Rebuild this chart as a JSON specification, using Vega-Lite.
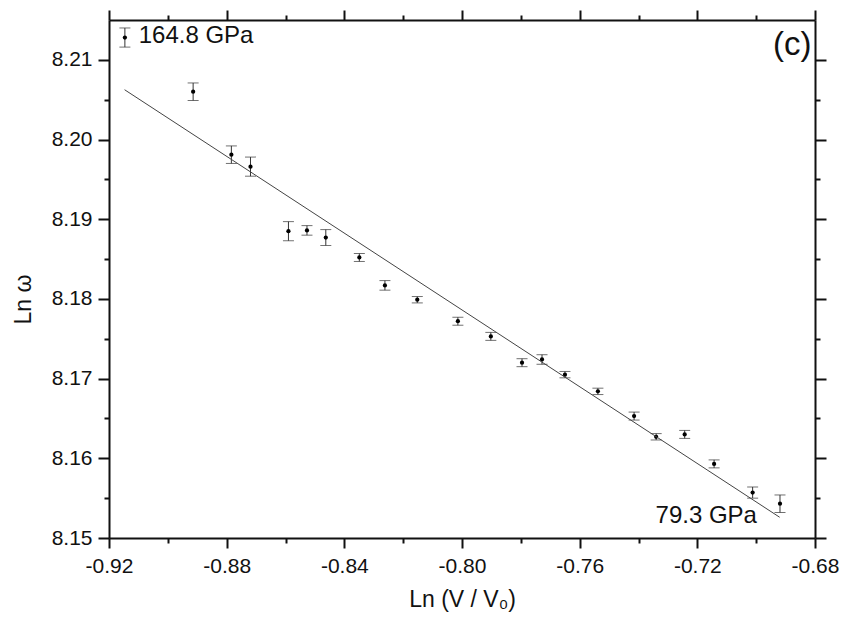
{
  "$schema": "https://vega.github.io/schema/vega-lite/v6.json",
  "width": 706,
  "height": 518,
  "autosize": "none",
  "padding": {"left": 109, "top": 20, "right": 26, "bottom": 88},
  "background": "white",
  "config": {
    "view": {"stroke": null},
    "font": "Liberation Sans",
    "axis": {
      "domainColor": "#111",
      "domainWidth": 2,
      "tickColor": "#111",
      "tickWidth": 2,
      "labelFont": "Liberation Sans",
      "labelFontSize": 21,
      "labelColor": "#111",
      "titleFont": "Liberation Sans",
      "titleFontSize": 23,
      "titleFontWeight": "normal",
      "titleColor": "#111",
      "grid": false,
      "labelFlush": false,
      "labelOverlap": false
    }
  },
  "datasets": {
    "pts": [
      {"x": -0.8914, "y": 8.2060, "lo": 8.2049, "hi": 8.2071},
      {"x": -0.8784, "y": 8.1981, "lo": 8.1970, "hi": 8.1992},
      {"x": -0.8719, "y": 8.1966, "lo": 8.1954, "hi": 8.1978},
      {"x": -0.8590, "y": 8.1885, "lo": 8.1873, "hi": 8.1897},
      {"x": -0.8527, "y": 8.1886, "lo": 8.1880, "hi": 8.1892},
      {"x": -0.8463, "y": 8.1877, "lo": 8.1867, "hi": 8.1887},
      {"x": -0.8349, "y": 8.1852, "lo": 8.1847, "hi": 8.1857},
      {"x": -0.8262, "y": 8.1817, "lo": 8.1811, "hi": 8.1823},
      {"x": -0.8152, "y": 8.1799, "lo": 8.1795, "hi": 8.1803},
      {"x": -0.8014, "y": 8.1772, "lo": 8.1767, "hi": 8.1777},
      {"x": -0.7902, "y": 8.1753, "lo": 8.1748, "hi": 8.1758},
      {"x": -0.7796, "y": 8.1720, "lo": 8.1715, "hi": 8.1725},
      {"x": -0.7728, "y": 8.1724, "lo": 8.1718, "hi": 8.1730},
      {"x": -0.7650, "y": 8.1705, "lo": 8.1701, "hi": 8.1709},
      {"x": -0.7538, "y": 8.1684, "lo": 8.1680, "hi": 8.1688},
      {"x": -0.7415, "y": 8.1653, "lo": 8.1648, "hi": 8.1658},
      {"x": -0.7340, "y": 8.1627, "lo": 8.1623, "hi": 8.1631},
      {"x": -0.7243, "y": 8.1630, "lo": 8.1625, "hi": 8.1635},
      {"x": -0.7143, "y": 8.1593, "lo": 8.1588, "hi": 8.1598},
      {"x": -0.7012, "y": 8.1557, "lo": 8.1550, "hi": 8.1564},
      {"x": -0.6919, "y": 8.1543, "lo": 8.1532, "hi": 8.1554}
    ],
    "fit": [
      {"x": -0.9147, "y": 8.20625},
      {"x": -0.6920, "y": 8.1526}
    ],
    "legendsym": [
      {"x": -0.9146, "y": 8.2128, "lo": 8.2116, "hi": 8.2140}
    ],
    "leftlabels": [
      {"x": -0.9099, "y": 8.2130, "t": "164.8 GPa"},
      {"x": -0.7342, "y": 8.1527, "t": "79.3 GPa"}
    ],
    "panel": [
      {"x": -0.6812, "y": 8.2119, "t": "(c)"}
    ]
  },
  "resolve": {"axis": {"x": "independent", "y": "independent"}},
  "layer": [
    {
      "data": {"name": "pts"},
      "mark": {"type": "rule", "color": "#333", "strokeWidth": 1},
      "encoding": {
        "x": {"field": "x", "type": "quantitative",
          "scale": {"domain": [-0.92, -0.68], "nice": false, "zero": false},
          "axis": {"orient": "bottom", "values": [-0.92, -0.88, -0.84, -0.80, -0.76, -0.72, -0.68], "labelExpr": "replace(format(datum.value, '.2f'), '−', '-')", "tickSize": 10, "labelPadding": 7, "title": "Ln (V / V₀)", "titlePadding": 12}},
        "y": {"field": "lo", "type": "quantitative",
          "scale": {"domain": [8.15, 8.215], "nice": false, "zero": false},
          "axis": {"orient": "left", "values": [8.15, 8.16, 8.17, 8.18, 8.19, 8.20, 8.21], "format": ".2f", "tickSize": 11, "labelPadding": 6, "title": "Ln ω", "titlePadding": 16, "titleY": 279}},
        "y2": {"field": "hi"}
      }
    },
    {
      "data": {"name": "pts"},
      "mark": {"type": "tick", "orient": "horizontal", "color": "#333", "thickness": 1, "size": 11},
      "encoding": {
        "x": {"field": "x", "type": "quantitative",
          "axis": {"orient": "bottom", "values": [-0.90, -0.86, -0.82, -0.78, -0.74, -0.70], "labels": false, "domain": false, "tickSize": 5, "title": null}},
        "y": {"field": "lo", "type": "quantitative",
          "axis": {"orient": "left", "values": [8.155, 8.165, 8.175, 8.185, 8.195, 8.205], "labels": false, "domain": false, "tickSize": 5, "title": null}}
      }
    },
    {
      "data": {"name": "pts"},
      "mark": {"type": "tick", "orient": "horizontal", "color": "#333", "thickness": 1, "size": 11},
      "encoding": {
        "x": {"field": "x", "type": "quantitative",
          "axis": {"orient": "top", "values": [-0.92, -0.88, -0.84, -0.80, -0.76, -0.72, -0.68], "labels": false, "tickSize": 10, "title": null}},
        "y": {"field": "hi", "type": "quantitative",
          "axis": {"orient": "right", "values": [8.15, 8.16, 8.17, 8.18, 8.19, 8.20, 8.21], "labels": false, "tickSize": 11, "title": null}}
      }
    },
    {
      "data": {"name": "pts"},
      "mark": {"type": "circle", "color": "#000", "size": 18, "opacity": 1},
      "encoding": {
        "x": {"field": "x", "type": "quantitative",
          "axis": {"orient": "top", "values": [-0.90, -0.86, -0.82, -0.78, -0.74, -0.70], "labels": false, "domain": false, "tickSize": 5, "title": null}},
        "y": {"field": "y", "type": "quantitative",
          "axis": {"orient": "right", "values": [8.155, 8.165, 8.175, 8.185, 8.195, 8.205], "labels": false, "domain": false, "tickSize": 5, "title": null}}
      }
    },
    {
      "data": {"name": "fit"},
      "mark": {"type": "line", "color": "#444", "strokeWidth": 1},
      "encoding": {
        "x": {"field": "x", "type": "quantitative", "axis": null},
        "y": {"field": "y", "type": "quantitative", "axis": null}
      }
    },
    {
      "data": {"name": "legendsym"},
      "mark": {"type": "rule", "color": "#333", "strokeWidth": 1},
      "encoding": {
        "x": {"field": "x", "type": "quantitative", "axis": null},
        "y": {"field": "lo", "type": "quantitative", "axis": null},
        "y2": {"field": "hi"}
      }
    },
    {
      "data": {"name": "legendsym"},
      "mark": {"type": "tick", "orient": "horizontal", "color": "#333", "thickness": 1, "size": 11},
      "encoding": {
        "x": {"field": "x", "type": "quantitative", "axis": null},
        "y": {"field": "lo", "type": "quantitative", "axis": null}
      }
    },
    {
      "data": {"name": "legendsym"},
      "mark": {"type": "tick", "orient": "horizontal", "color": "#333", "thickness": 1, "size": 11},
      "encoding": {
        "x": {"field": "x", "type": "quantitative", "axis": null},
        "y": {"field": "hi", "type": "quantitative", "axis": null}
      }
    },
    {
      "data": {"name": "legendsym"},
      "mark": {"type": "circle", "color": "#000", "size": 18, "opacity": 1},
      "encoding": {
        "x": {"field": "x", "type": "quantitative", "axis": null},
        "y": {"field": "y", "type": "quantitative", "axis": null}
      }
    },
    {
      "data": {"name": "leftlabels"},
      "mark": {"type": "text", "align": "left", "baseline": "middle", "color": "#111", "font": "Liberation Sans", "fontSize": 24},
      "encoding": {
        "x": {"field": "x", "type": "quantitative", "axis": null},
        "y": {"field": "y", "type": "quantitative", "axis": null},
        "text": {"field": "t"}
      }
    },
    {
      "data": {"name": "panel"},
      "mark": {"type": "text", "align": "right", "baseline": "middle", "color": "#111", "font": "Liberation Sans", "fontSize": 33},
      "encoding": {
        "x": {"field": "x", "type": "quantitative", "axis": null},
        "y": {"field": "y", "type": "quantitative", "axis": null},
        "text": {"field": "t"}
      }
    }
  ]
}
